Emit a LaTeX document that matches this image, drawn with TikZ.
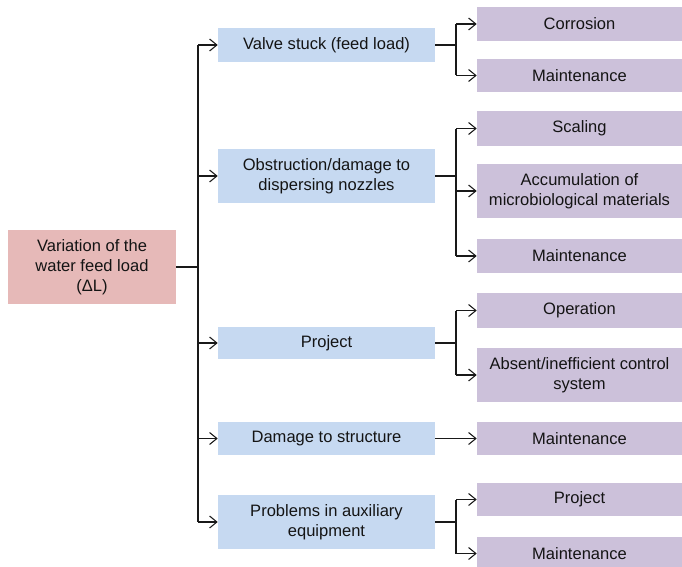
\documentclass[tikz,border=0pt]{standalone}
\usepackage{fontspec}
\setmainfont{Liberation Sans}
\usetikzlibrary{arrows.meta}
\definecolor{pinkbox}{HTML}{E6B9B8}
\definecolor{bluebox}{HTML}{C6D9F1}
\definecolor{purplebox}{HTML}{CCC1DA}
\definecolor{txt}{HTML}{141414}
\begin{document}
\begin{tikzpicture}[x=0.75pt,y=-0.75pt,
  box/.style={rectangle, inner sep=0pt, align=center, text=txt,
    font=\fontsize{12.4pt}{15pt}\selectfont},
  leftbox/.style={box, fill=pinkbox, minimum width=168*0.75pt, minimum height=74*0.75pt},
  midbox/.style={box, fill=bluebox, minimum width=217*0.75pt},
  rightbox/.style={box, fill=purplebox, minimum width=205*0.75pt},
  conn/.style={line width=0.9pt, draw=black!90},
  stub/.style={line width=1.5pt, draw=black!90},
  arr/.style={conn, -{Straight Barb[length=5.5pt,width=9pt,line width=0.8pt]}}
]
\useasboundingbox (0,0) rectangle (682,567);
% left
\node[leftbox] (root) at (92,267) {Variation of the\\water feed load\\(ΔL)};
% middle
\node[midbox, minimum height=34*0.75pt] (valve) at (326.5,45) {Valve stuck (feed load)};
\node[midbox, minimum height=54*0.75pt] (obst) at (326.5,176) {Obstruction/damage to\\dispersing nozzles};
\node[midbox, minimum height=32*0.75pt] (proj) at (326.5,343) {Project};
\node[midbox, minimum height=33*0.75pt] (dam) at (326.5,438.5) {Damage to structure};
\node[midbox, minimum height=54*0.75pt] (prob) at (326.5,522) {Problems in auxiliary\\equipment};
% right
\node[rightbox, minimum height=34*0.75pt] (corr) at (579.5,24) {Corrosion};
\node[rightbox, minimum height=33*0.75pt] (mA) at (579.5,75.5) {Maintenance};
\node[rightbox, minimum height=35*0.75pt] (scal) at (579.5,128.5) {Scaling};
\node[rightbox, minimum height=54*0.75pt] (acc) at (579.5,191) {Accumulation of\\microbiological materials};
\node[rightbox, minimum height=34*0.75pt] (mB) at (579.5,256) {Maintenance};
\node[rightbox, minimum height=35*0.75pt] (oper) at (579.5,310.5) {Operation};
\node[rightbox, minimum height=54*0.75pt] (abs) at (579.5,375) {Absent/inefficient control\\system};
\node[rightbox, minimum height=33*0.75pt] (mC) at (579.5,438.5) {Maintenance};
\node[rightbox, minimum height=33*0.75pt] (projR) at (579.5,499.5) {Project};
\node[rightbox, minimum height=33*0.75pt] (mD) at (579.5,553.5) {Maintenance};
% trunk
\coordinate (trunk) at (198,0);
\draw[stub] (root.east) -- (root.east -| trunk);
\draw[conn] (trunk |- valve.west) -- (trunk |- prob.west);
\foreach \n in {valve,obst,proj,dam,prob}
  \draw[arr] (trunk |- \n.west) -- (\n.west);
% brackets
\coordinate (br) at (456,0);
\draw[stub] (valve.east) -- (valve.east -| br);
\draw[conn] (br |- corr.west) -- (br |- mA.west);
\draw[arr] (br |- corr.west) -- (corr.west);
\draw[arr] (br |- mA.west) -- (mA.west);
\draw[conn] (obst.east) -- (obst.east -| br);
\draw[conn] (br |- scal.west) -- (br |- mB.west);
\draw[arr] (br |- scal.west) -- (scal.west);
\draw[arr] (br |- acc.west) -- (acc.west);
\draw[arr] (br |- mB.west) -- (mB.west);
\draw[stub] (proj.east) -- (proj.east -| br);
\draw[conn] (br |- oper.west) -- (br |- abs.west);
\draw[arr] (br |- oper.west) -- (oper.west);
\draw[arr] (br |- abs.west) -- (abs.west);
\draw[arr] (dam.east) -- (mC.west);
\draw[stub] (prob.east) -- (prob.east -| br);
\draw[conn] (br |- projR.west) -- (br |- mD.west);
\draw[arr] (br |- projR.west) -- (projR.west);
\draw[arr] (br |- mD.west) -- (mD.west);
\end{tikzpicture}
\end{document}
